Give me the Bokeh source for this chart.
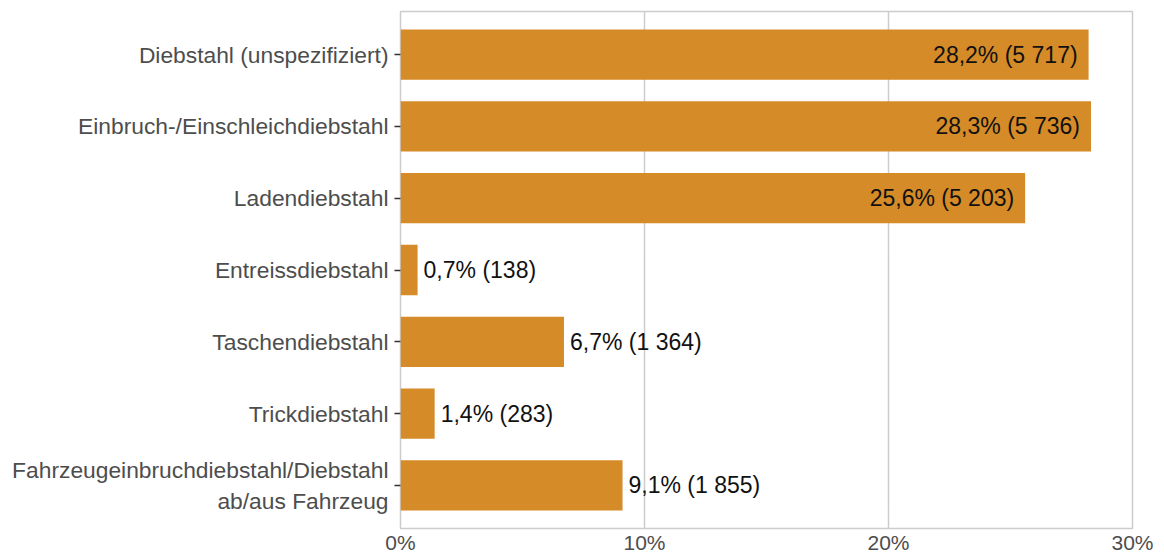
from bokeh.plotting import figure
from bokeh.models import FactorRange, Range1d, FixedTicker, PrintfTickFormatter, ColumnDataSource
from bokeh.core.properties import value
from bokeh.embed import file_html
from bokeh.resources import INLINE

categories = [
    "Diebstahl (unspezifiziert)",
    "Einbruch-/Einschleichdiebstahl",
    "Ladendiebstahl",
    "Entreissdiebstahl",
    "Taschendiebstahl",
    "Trickdiebstahl",
    "Fahrzeugeinbruchdiebstahl/Diebstahl\nab/aus Fahrzeug",
]
percent = [28.2, 28.3, 25.6, 0.7, 6.7, 1.4, 9.1]
counts = [5717, 5736, 5203, 138, 1364, 283, 1855]
x_ticks = [0, 10, 20, 30]

BAR = "#D58B27"
FONT = "Liberation Sans"


def fmt_label(p, c):
    return f"{p:.1f}".replace(".", ",") + "% (" + f"{c:,}".replace(",", " ") + ")"


labels = [fmt_label(p, c) for p, c in zip(percent, counts)]
inside = [p > 20 for p in percent]

src = ColumnDataSource(dict(cat=categories, pct=percent, lab=labels))
src_in = ColumnDataSource(dict(
    cat=[c for c, i in zip(categories, inside) if i],
    pct=[p for p, i in zip(percent, inside) if i],
    lab=[l for l, i in zip(labels, inside) if i],
))
src_out = ColumnDataSource(dict(
    cat=[c for c, i in zip(categories, inside) if not i],
    pct=[p for p, i in zip(percent, inside) if not i],
    lab=[l for l, i in zip(labels, inside) if not i],
))

p = figure(
    width=1164, height=556,
    y_range=FactorRange(factors=list(reversed(categories)), range_padding=0.1,
                        range_padding_units="absolute"),
    x_range=Range1d(0, 30),
    output_backend="svg", toolbar_location=None,
    min_border_left=400, min_border_right=32, min_border_top=11, min_border_bottom=28,
)

p.hbar(y="cat", right="pct", left=0, height=0.7, source=src, color=BAR, line_color=None)

p.text(x="pct", y="cat", text="lab", source=src_in, text_align="right", text_baseline="middle",
       x_offset=-11, text_font_size="23px", text_font=value(FONT), text_color="#111111")
p.text(x="pct", y="cat", text="lab", source=src_out, text_align="left", text_baseline="middle",
       x_offset=6, text_font_size="23px", text_font=value(FONT), text_color="#111111")

p.outline_line_color = "#cccccc"
p.outline_line_width = 1.5
p.background_fill_color = "white"
p.border_fill_color = "white"

p.ygrid.grid_line_color = None
p.xgrid.grid_line_color = "#cccccc"
p.xgrid.grid_line_width = 1.5
p.xgrid.ticker = FixedTicker(ticks=x_ticks)

p.xaxis.ticker = FixedTicker(ticks=x_ticks)
p.xaxis.formatter = PrintfTickFormatter(format="%d%%")
p.xaxis.axis_line_color = None
p.xaxis.major_tick_line_color = None
p.xaxis.minor_tick_line_color = None
p.xaxis.major_tick_out = 0
p.xaxis.major_label_standoff = 2
p.xaxis.major_label_text_font = FONT
p.xaxis.major_label_text_font_size = "21px"
p.xaxis.major_label_text_color = "#4d4d4d"

p.yaxis.axis_line_color = None
p.yaxis.major_tick_line_color = "#333333"
p.yaxis.major_tick_line_width = 1.5
p.yaxis.major_tick_out = 6
p.yaxis.major_tick_in = 0
p.yaxis.major_label_standoff = 6
p.yaxis.major_label_text_font = FONT
p.yaxis.major_label_text_font_size = "22.8px"
p.yaxis.major_label_text_color = "#4d4d4d"
p.yaxis.major_label_text_line_height = 1.2

open("out.html", "w").write(file_html(p, INLINE))
